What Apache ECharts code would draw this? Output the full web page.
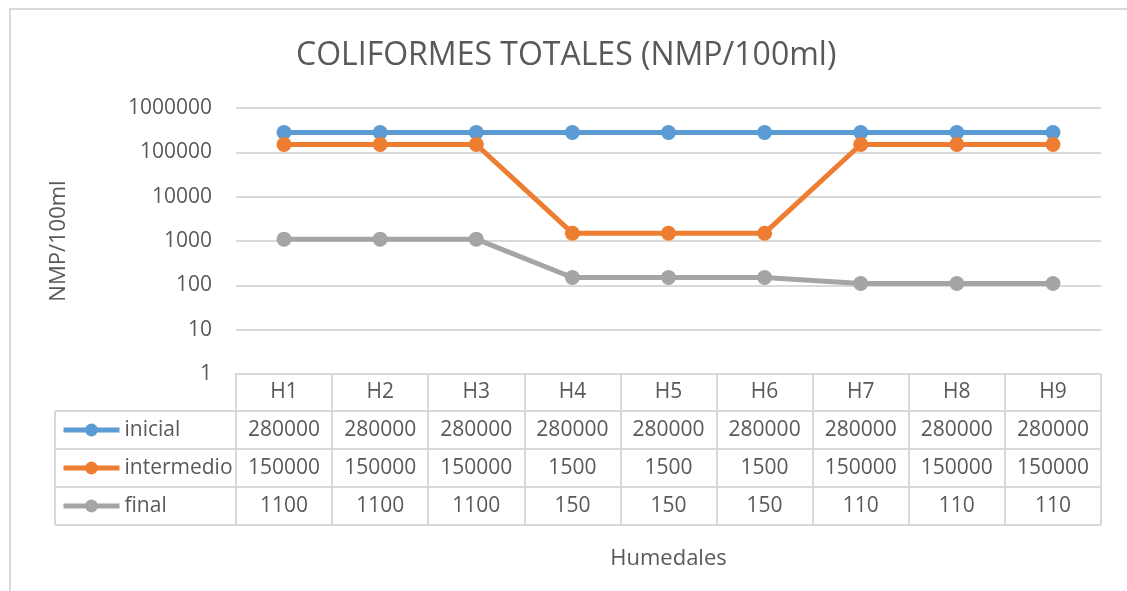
<!DOCTYPE html>
<html>
<head>
<meta charset="utf-8">
<script src="https://cdn.jsdelivr.net/npm/echarts@6/dist/echarts.min.js"></script>
<style>
  html, body { margin: 0; padding: 0; background: #fff; }
  #main { width: 1127px; height: 591px; }
</style>
</head>
<body>
<div id="main"></div>
<script>
// datos de la tabla
var humedales = ['H1', 'H2', 'H3', 'H4', 'H5', 'H6', 'H7', 'H8', 'H9']
var inicial = [280000, 280000, 280000, 280000, 280000, 280000, 280000, 280000, 280000]
var intermedio = [150000, 150000, 150000, 1500, 1500, 1500, 150000, 150000, 150000]
var final = [1100, 1100, 1100, 150, 150, 150, 110, 110, 110]
var yTicks = [1, 10, 100, 1000, 10000, 100000, 1000000]

var txt = '#595959'
var borde = '#D9D9D9'
var fuente = '"Open Sans", sans-serif'

// tabla: cabecera en y=374, filas de 38px
var gLeft = 236, gRight = 1101, gTop = 108, gBottom = 374
var rowH = 38, colLeft = 55
var tableBottom = gBottom + 37 + 3 * rowH

var myChart = echarts.init(document.getElementById('main'))

function filaEje (valores, margin) {
  return {
    type: 'category',
    data: humedales,
    position: 'bottom',
    axisLine: { show: false },
    axisTick: { show: false },
    axisLabel: {
      interval: 0,
      margin: margin,
      verticalAlign: 'middle',
      color: txt,
      fontSize: 21,
      fontFamily: fuente,
      formatter: function (v, i) { return String(valores[i]) }
    }
  }
}

var lineas = []
for (var k = 0; k < 4; k++) {
  var y = gBottom + 37 + k * rowH
  lineas.push({
    type: 'line',
    shape: { x1: colLeft, y1: y, x2: gRight, y2: y },
    style: { stroke: borde, lineWidth: 2 }
  })
}
lineas.push({
  type: 'line',
  shape: { x1: colLeft, y1: gBottom + 37, x2: colLeft, y2: tableBottom },
  style: { stroke: borde, lineWidth: 2 }
})
lineas.push({
  type: 'rect',
  shape: { x: 10, y: 9, width: 1300, height: 800 },
  style: { fill: 'none', stroke: borde, lineWidth: 2 }
})

var option = {
  backgroundColor: '#fff',
  animation: false,
  title: {
    text: 'COLIFORMES TOTALES (NMP/100ml)',
    left: 291,
    top: 35,
    textStyle: { color: txt, fontSize: 32, fontWeight: 'normal', fontFamily: fuente }
  },
  legend: {
    orient: 'vertical',
    left: 61,
    top: gBottom + 37 + rowH / 2 - 11,
    padding: 0,
    itemWidth: 56,
    itemHeight: 16,
    itemGap: rowH - 22,
    lineStyle: { width: 5 },
    textStyle: { color: txt, fontSize: 21, fontFamily: fuente, lineHeight: 22 },
    data: ['inicial', 'intermedio', 'final']
  },
  grid: {
    left: gLeft,
    right: 1127 - gRight,
    top: gTop,
    bottom: 591 - gBottom
  },
  graphic: lineas,
  xAxis: [
    {
      type: 'category',
      data: humedales,
      boundaryGap: true,
      position: 'bottom',
      name: 'Humedales',
      nameLocation: 'middle',
      nameGap: 174,
      nameTextStyle: { color: txt, fontSize: 22, fontFamily: fuente },
      axisLine: { show: true, lineStyle: { color: borde, width: 2 } },
      axisTick: { show: true, inside: false, length: 151, lineStyle: { color: borde, width: 2 } },
      axisLabel: { interval: 0, margin: 18, verticalAlign: 'middle', color: txt, fontSize: 21, fontFamily: fuente }
    },
    filaEje(inicial, 56),
    filaEje(intermedio, 94),
    filaEje(final, 132)
  ],
  yAxis: {
    type: 'log',
    logBase: 10,
    min: yTicks[0],
    max: yTicks[yTicks.length - 1],
    name: 'NMP/100ml',
    nameLocation: 'middle',
    nameGap: 166,
    nameRotate: 90,
    nameTextStyle: { color: txt, fontSize: 22, fontFamily: fuente },
    axisLine: { show: false },
    axisTick: { show: false },
    splitLine: { lineStyle: { color: borde, width: 2 } },
    axisLabel: {
      margin: 24,
      color: txt,
      fontSize: 21,
      fontFamily: fuente,
      formatter: function (v) { return String(Math.round(v)) }
    }
  },
  series: [
    {
      name: 'inicial',
      type: 'line',
      data: inicial,
      symbol: 'circle',
      symbolSize: 15,
      color: '#5B9BD5',
      lineStyle: { width: 5 }
    },
    {
      name: 'intermedio',
      type: 'line',
      data: intermedio,
      symbol: 'circle',
      symbolSize: 15,
      color: '#ED7D31',
      lineStyle: { width: 5 }
    },
    {
      name: 'final',
      type: 'line',
      data: final,
      symbol: 'circle',
      symbolSize: 15,
      color: '#A5A5A5',
      lineStyle: { width: 5 }
    }
  ]
}
myChart.setOption(option)
</script>
</body>
</html>
